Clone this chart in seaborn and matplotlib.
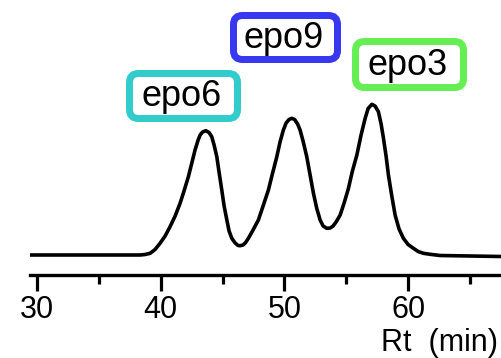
import numpy as np
import pandas as pd
import matplotlib
matplotlib.use("Agg")
import matplotlib.pyplot as plt
import seaborn as sns
from matplotlib.patches import FancyBboxPatch
from matplotlib.transforms import IdentityTransform

# Retention time (min) and detector signal (arbitrary units)
rt = [29.43, 38.33, 38.73, 39.14, 39.54, 39.94, 40.35, 40.75, 41.16, 41.56,
      41.88, 42.23, 42.53, 42.77, 43.02, 43.18, 43.38, 43.64, 43.90, 44.12,
      44.31, 44.53, 44.71, 44.93, 45.12, 45.34, 45.52, 45.74, 46.01, 46.25,
      46.41, 46.65, 46.86, 47.08, 47.46, 47.89, 48.27, 48.70, 49.00, 49.38,
      49.64, 49.91, 50.13, 50.37, 50.59, 50.82, 51.06, 51.26, 51.50, 51.80,
      52.07, 52.34, 52.60, 52.88, 53.12, 53.42, 53.69, 53.93, 54.17, 54.50,
      54.82, 55.17, 55.47, 55.85, 56.19, 56.52, 56.76, 57.06, 57.32, 57.59,
      57.81, 58.00, 58.21, 58.40, 58.66, 58.94, 59.26, 59.61, 59.99, 60.42,
      60.80, 61.23, 61.77, 62.58, 67.5]
signal = [0, 0, 0.5, 1.7, 5.5, 11.7, 19, 28.3, 39, 51.7,
          64, 78.3, 93, 105, 115, 120, 123, 124.3, 122.5, 118.3,
          110, 98.3, 83, 65, 49, 35, 24, 16.7, 12, 9.5,
          9.3, 10, 12.5, 16.7, 25, 35, 49, 65, 80, 98.3,
          113, 125, 132, 135.5, 136.7, 135.5, 131, 125, 114, 98.3,
          80, 61.7, 47, 35, 29, 26.7, 27, 29, 33, 40,
          52, 66.7, 83, 100, 120, 136.7, 146.5, 150.7, 149, 143.3,
          131, 116.7, 99, 80, 60, 40, 26, 16.7, 10.5, 6.7,
          3.5, 1.7, 0.7, -0.5, -1.5]

peak_labels = ["epo6", "epo9", "epo3"]
peak_colors = ["#33CCCC", "#3838F0", "#66EE55"]

x_ticks = [30, 40, 50, 60]
x_minor = [35, 45, 55, 65]
x_label = "Rt  (min)"

sns.set_theme(style="white")
plt.rcParams['font.family'] = ['Liberation Sans', 'DejaVu Sans']

W, H = 501, 358
fig = plt.figure(figsize=(W / 100, H / 100), dpi=100)
ax_left, ax_bottom_px = 30, 274.7
ax_w_px = W - ax_left
ax = fig.add_axes([ax_left / W, (H - ax_bottom_px) / H, ax_w_px / W, ax_bottom_px / H])

df = pd.DataFrame({"rt": rt, "signal": signal})
sns.lineplot(data=df, x="rt", y="signal", ax=ax, color="black", lw=2.6)

ax.set_xlim(29.43, 67.5)
ax.set_ylim(-19.7, 255)
ax.set_yticks([])
ax.set_xticks(x_ticks)
ax.set_xticks(x_minor, minor=True)
ax.set_xticklabels([str(t) for t in x_ticks], fontsize=22)
ax.tick_params(axis="x", which="major", direction="out", length=11.5, width=2.3,
               color="black", pad=3, labelcolor="black", bottom=True)
ax.tick_params(axis="x", which="minor", direction="out", length=6.5, width=2.3,
               color="black", bottom=True)
for s in ["top", "left", "right"]:
    ax.spines[s].set_visible(False)
ax.spines["bottom"].set_linewidth(2.4)
ax.spines["bottom"].set_color("black")
ax.set_ylabel("")
ax.set_xlabel(x_label, fontsize=22, loc="right", color="black")
ax.xaxis.set_label_coords((498 - ax_left) / ax_w_px, (ax_bottom_px - 351.5) / ax_bottom_px)
ax.xaxis.label.set_verticalalignment("baseline")
ax.xaxis.label.set_horizontalalignment("right")

# label boxes: (x0, y0_top, x1, y1_bottom) in image pixels
boxes = [(126, 70, 241, 122), (230, 12, 341, 63), (352, 38, 467, 91)]
lw_px = 7
for (x0, y0, x1, y1), lab, col in zip(boxes, peak_labels, peak_colors):
    px0 = x0 + lw_px / 2
    px1 = x1 - lw_px / 2
    py_top = H - (y0 + lw_px / 2)
    py_bot = H - (y1 - lw_px / 2)
    patch = FancyBboxPatch((px0, py_bot), px1 - px0, py_top - py_bot,
                           boxstyle="round,pad=0,rounding_size=9",
                           transform=IdentityTransform(), facecolor="white",
                           edgecolor=col, lw=lw_px * 0.72, zorder=5)
    fig.patches.append(patch)
    cx = (x0 + x1) / 2 - 2
    cy = (y0 + y1) / 2 + 1
    fig.text(cx / W, 1 - cy / H, lab, ha="center", va="center", fontsize=26,
             color="black", zorder=6)

fig.savefig("out.png", dpi=100)
